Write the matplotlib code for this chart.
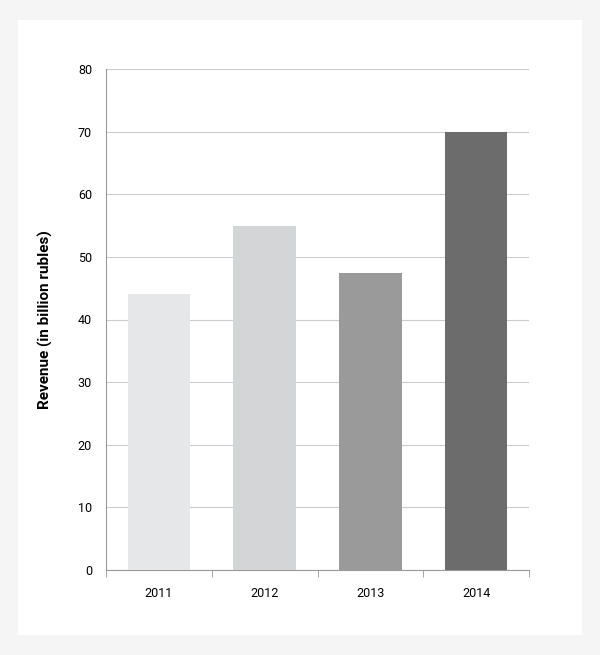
import matplotlib.pyplot as plt
from matplotlib.patches import Rectangle

plt.rcParams["font.family"] = "Roboto"

years = ["2011", "2012", "2013", "2014"]
revenue = [44, 55, 47.5, 70]
colors = ["#e6e7e9", "#d4d5d6", "#999a99", "#6b6c6b"]

fig = plt.figure(figsize=(6, 6.55), dpi=100)
fig.patch.set_facecolor("#f5f5f5")
fig.add_artist(Rectangle((18 / 600, 20 / 655), 564 / 600, 615 / 655,
                         transform=fig.transFigure, facecolor="white", edgecolor="none", zorder=0))

ax = fig.add_axes([106 / 600, 85 / 655, 423 / 600, 501 / 655])
ax.set_facecolor("none")
x = range(len(years))
ax.bar(x, revenue, width=0.59, color=colors, zorder=3)

ax.set_xlim(-0.5, 3.5)
ax.set_ylim(0, 80)
ax.set_yticks(range(0, 81, 10))
ax.set_xticks(list(x))
ax.set_xticklabels(years, fontsize=9)
ax.set_xticks([-0.5, 0.5, 1.5, 2.5, 3.5], minor=True)
ax.tick_params(axis="x", which="major", length=0, pad=12)
ax.tick_params(axis="x", which="minor", length=5, color="#999999")
ax.tick_params(axis="y", length=0, labelsize=9, pad=10)
ax.grid(axis="y", color="#cccccc", linewidth=0.8, zorder=0)
for s in ["top", "right"]:
    ax.spines[s].set_visible(False)
ax.spines["left"].set_color("#999999")
ax.spines["bottom"].set_color("#999999")
ax.set_ylabel("Revenue (in billion rubles)", fontsize=11, fontweight="bold", labelpad=18)

fig.savefig("out.png", dpi=100, facecolor=fig.get_facecolor())
